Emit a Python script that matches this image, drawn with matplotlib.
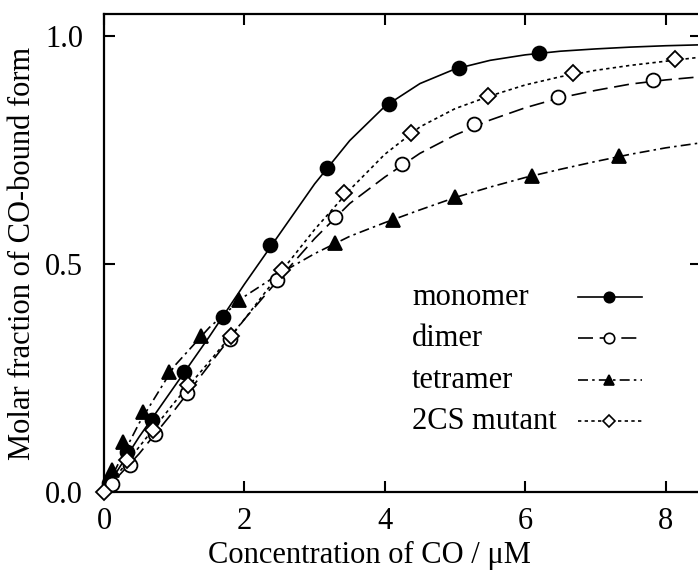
import matplotlib.pyplot as plt

plt.rcParams['font.family'] = ['Liberation Serif', 'DejaVu Serif']
plt.rcParams['font.size'] = 22

# Measured points: CO concentration (uM) vs molar fraction of CO-bound form
monomer_x = [0.07, 0.33, 0.69, 1.14, 1.70, 2.37, 3.17, 4.06, 5.06, 6.19]
monomer_y = [0.020, 0.087, 0.157, 0.262, 0.382, 0.541, 0.710, 0.850, 0.930, 0.963]

dimer_x = [0.11, 0.37, 0.73, 1.18, 1.79, 2.47, 3.29, 4.24, 5.27, 6.46, 7.82]
dimer_y = [0.017, 0.058, 0.127, 0.216, 0.335, 0.464, 0.602, 0.718, 0.806, 0.865, 0.902]

tetramer_x = [0.11, 0.27, 0.56, 0.92, 1.38, 1.92, 3.29, 4.11, 5.00, 6.09, 7.34]
tetramer_y = [0.047, 0.109, 0.174, 0.262, 0.341, 0.420, 0.545, 0.595, 0.646, 0.692, 0.736]

mutant_x = [0.00, 0.33, 0.70, 1.20, 1.81, 2.54, 3.42, 4.37, 5.47, 6.68, 8.13]
mutant_y = [0.000, 0.069, 0.135, 0.234, 0.341, 0.486, 0.655, 0.786, 0.867, 0.919, 0.948]

# Fitted binding curves
fit_x = [0, 0.5, 1.0, 1.5, 2.0, 2.5, 3.0, 3.5, 4.0, 4.5, 5.0, 5.5, 6.0, 6.5, 7.0, 7.5, 8.0, 8.5]
monomer_fit = [0, 0.120, 0.230, 0.340, 0.455, 0.565, 0.675, 0.770, 0.845, 0.895, 0.927, 0.946,
               0.958, 0.966, 0.971, 0.975, 0.978, 0.980]
dimer_fit = [0, 0.083, 0.178, 0.278, 0.378, 0.468, 0.555, 0.632, 0.690, 0.742, 0.782, 0.815,
             0.842, 0.864, 0.880, 0.894, 0.903, 0.910]
tetramer_fit = [0, 0.150, 0.275, 0.360, 0.428, 0.478, 0.522, 0.560, 0.590, 0.618, 0.645, 0.668,
                0.689, 0.707, 0.724, 0.740, 0.754, 0.765]
mutant_fit = [0, 0.098, 0.195, 0.285, 0.378, 0.478, 0.575, 0.662, 0.740, 0.800, 0.840, 0.868,
              0.892, 0.910, 0.924, 0.935, 0.944, 0.953]

labels = ["monomer", "dimer", "tetramer", "2CS mutant"]

LW = 1.2
styles = [
    dict(ls="-", marker="o", mfc="black", ms=10),
    dict(ls=(0, (9, 4)), marker="o", mfc="white", ms=10),
    dict(ls=(0, (6, 2.5, 1.5, 2.5)), marker="^", mfc="black", ms=10),
    dict(ls=(0, (2, 2)), marker="D", mfc="white", ms=8.5),
]

fig = plt.figure(figsize=(6.98, 5.71), dpi=100)
# right edge sits just past the figure border
ax = fig.add_axes([0.149, 0.139, 0.855, 0.836])

series = [
    (monomer_x, monomer_y, monomer_fit),
    (dimer_x, dimer_y, dimer_fit),
    (tetramer_x, tetramer_y, tetramer_fit),
    (mutant_x, mutant_y, mutant_fit),
]
for i, ((xs, ys, fit), st) in enumerate(zip(series, styles)):
    ax.plot(fit_x, fit, color="black", lw=LW, ls=st["ls"], zorder=2)
    ax.plot(xs, ys, ls="none", marker=st["marker"], ms=st["ms"], mfc=st["mfc"],
            mec="black", mew=1.3, zorder=3 + i, clip_on=False)

ax.set_xlim(0, 8.5)
ax.set_ylim(0, 1.047)
ax.set_xticks([0, 2, 4, 6, 8])
ax.set_yticks([0, 0.5, 1.0])
ax.set_yticklabels(["0.0", "0.5", "1.0"])
ax.tick_params(direction="in", length=8, width=1.5, top=True, right=True)
ax.tick_params(axis="x", pad=11)
ax.tick_params(axis="y", pad=15)
for s in ax.spines.values():
    s.set_linewidth(1.6)

ax.set_xlabel("Concentration of CO / μM", labelpad=4)
ax.xaxis.label.set_x(0.444)
ax.set_ylabel("Molar fraction of CO-bound form", labelpad=6)

# legend: labels on the left, line samples on the right
row_y = [0.407, 0.321, 0.233, 0.147]
for lab, st, yy in zip(labels, styles, row_y):
    ax.text(0.516, yy, lab, transform=ax.transAxes, ha="left", va="center")
    ax.plot([0.794, 0.847, 0.901], [yy, yy, yy], transform=ax.transAxes,
            color="black", lw=LW, ls=st["ls"], marker=st["marker"], markevery=[1],
            ms=st["ms"] * 0.75, mfc=st["mfc"], mec="black", mew=1.2)

fig.savefig("out.png", dpi=100)
